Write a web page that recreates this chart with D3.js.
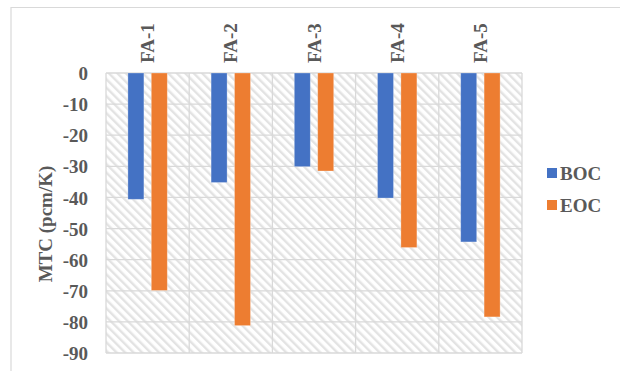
<!DOCTYPE html>
<html>
<head>
<meta charset="utf-8">
<script src="https://cdn.jsdelivr.net/npm/d3@7"></script>
<style>
  html, body { margin: 0; padding: 0; background: #ffffff; }
  svg { display: block; }
  text { font-family: "Liberation Serif", "Times New Roman", serif; font-weight: bold; fill: #595959; }
</style>
</head>
<body>
<svg id="chart" width="620" height="371"></svg>
<script>
// Fuel assembly categories
const categories = ["FA-1", "FA-2", "FA-3", "FA-4", "FA-5"];
// Series names
const seriesNames = ["BOC", "EOC"];
// Moderator temperature coefficient (pcm/K)
const bocValues = [-40.6, -35.2, -30.1, -40.2, -54.3];
const eocValues = [-69.9, -81.2, -31.5, -56.1, -78.4];
// Value axis ticks
const yTicks = [0, -10, -20, -30, -40, -50, -60, -70, -80, -90];

const colors = { BOC: "#4472C4", EOC: "#ED7D31" };
const gridColor = "#D9D9D9";

const svg = d3.select("#chart");

// Chart frame
svg.append("path")
  .attr("d", "M11,371 V7.5 H620")
  .attr("fill", "none")
  .attr("stroke", gridColor)
  .attr("stroke-width", 1.2);

const plot = { left: 106, right: 522, top: 73, bottom: 353 };

const x0 = d3.scaleBand()
  .domain(categories)
  .range([plot.left, plot.right])
  .paddingInner(0)
  .paddingOuter(0);

const x1 = d3.scaleBand()
  .domain(seriesNames)
  .range([0, x0.bandwidth()])
  .paddingInner(0.316)
  .paddingOuter(0.936);

const y = d3.scaleLinear()
  .domain([-90, 0])
  .range([plot.bottom, plot.top]);

// Diagonal hatch fill for the plot area
const defs = svg.append("defs");
const pat = defs.append("pattern")
  .attr("id", "hatch")
  .attr("patternUnits", "userSpaceOnUse")
  .attr("width", 6)
  .attr("height", 6)
  .attr("patternTransform", "rotate(-45)");
pat.append("rect").attr("width", 6).attr("height", 6).attr("fill", "#ffffff");
pat.append("rect").attr("x", 0).attr("y", 0).attr("width", 2.4).attr("height", 6).attr("fill", "#E3E3E3");

svg.append("rect")
  .attr("x", plot.left)
  .attr("y", plot.top)
  .attr("width", plot.right - plot.left)
  .attr("height", plot.bottom - plot.top)
  .attr("fill", "url(#hatch)");

// Horizontal gridlines
svg.append("g")
  .selectAll("line")
  .data(yTicks)
  .join("line")
  .attr("x1", plot.left)
  .attr("x2", plot.right)
  .attr("y1", d => y(d))
  .attr("y2", d => y(d))
  .attr("stroke", gridColor)
  .attr("stroke-width", 1.3);

// Vertical category separators
const sepPositions = categories.map(c => x0(c)).concat([plot.right]);
svg.append("g")
  .selectAll("line")
  .data(sepPositions)
  .join("line")
  .attr("x1", d => d)
  .attr("x2", d => d)
  .attr("y1", plot.top)
  .attr("y2", plot.bottom)
  .attr("stroke", gridColor)
  .attr("stroke-width", 1.3);

// Bars
const rows = categories.map((c, i) => ({ category: c, BOC: bocValues[i], EOC: eocValues[i] }));
const groups = svg.append("g")
  .selectAll("g")
  .data(rows)
  .join("g")
  .attr("transform", d => `translate(${x0(d.category)},0)`);

groups.selectAll("rect")
  .data(d => seriesNames.map(s => ({ key: s, value: d[s] })))
  .join("rect")
  .attr("x", d => x1(d.key))
  .attr("width", x1.bandwidth())
  .attr("y", d => y(0))
  .attr("height", d => y(d.value) - y(0))
  .attr("fill", d => colors[d.key])
  .attr("stroke", "#ffffff")
  .attr("stroke-opacity", 0.35)
  .attr("stroke-width", 0.8);

// Value axis labels (plain hyphen for negatives)
const yAxis = d3.axisLeft(y)
  .tickValues(yTicks)
  .tickFormat(d => String(d))
  .tickSize(0)
  .tickPadding(0);
const yAxisG = svg.append("g")
  .attr("transform", `translate(88,0)`)
  .call(yAxis);
yAxisG.select(".domain").remove();
yAxisG.selectAll("text")
  .style("font-size", "19px")
  .attr("fill", "#595959")
  .attr("dy", "0.35em");

// Category labels above the plot, rotated
const xAxis = d3.axisTop(x0).tickSize(0).tickPadding(0);
const xAxisG = svg.append("g")
  .attr("transform", `translate(0,${plot.top})`)
  .call(xAxis);
xAxisG.select(".domain").remove();
xAxisG.selectAll("text")
  .style("font-size", "19px")
  .attr("fill", "#595959")
  .attr("text-anchor", "start")
  .attr("transform", "translate(0,-10) rotate(-90)")
  .attr("x", 0)
  .attr("y", 0)
  .attr("dy", "0.35em");

// Axis title
svg.append("text")
  .attr("transform", "translate(45,224) rotate(-90)")
  .attr("text-anchor", "middle")
  .attr("dy", "0.35em")
  .style("font-size", "19px")
  .text("MTC (pcm/K)");

// Legend
const legend = svg.append("g")
  .selectAll("g")
  .data(seriesNames)
  .join("g")
  .attr("transform", (d, i) => `translate(547,${173 + i * 32})`);
legend.append("rect")
  .attr("x", 0)
  .attr("y", -5)
  .attr("width", 10)
  .attr("height", 10)
  .attr("fill", d => colors[d]);
legend.append("text")
  .attr("x", 13)
  .attr("y", 0)
  .attr("dy", "0.35em")
  .style("font-size", "19px")
  .text(d => d);
</script>
</body>
</html>
